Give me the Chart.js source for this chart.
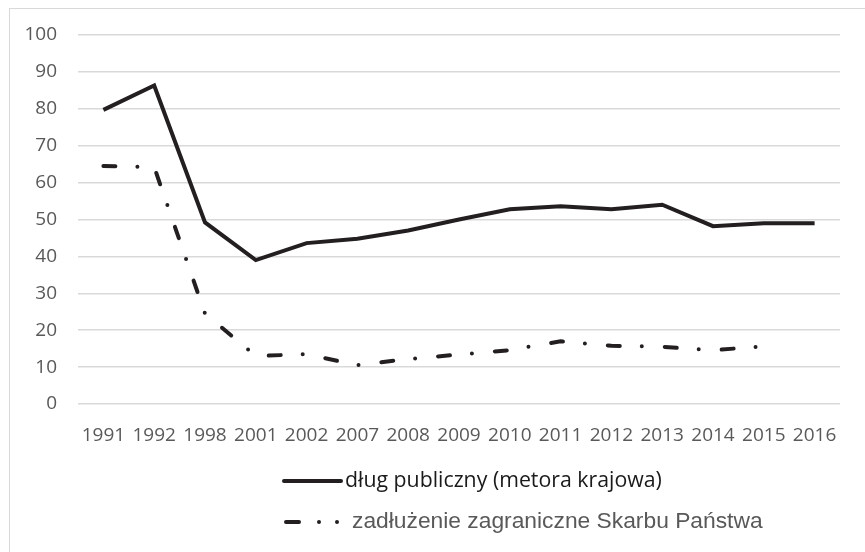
<!DOCTYPE html>
<html>
<head>
<meta charset="utf-8">
<script src="https://cdn.jsdelivr.net/npm/chart.js@4/dist/chart.umd.min.js"></script>
<style>
  html, body { margin: 0; padding: 0; background: #fff; }
  #wrap { position: relative; width: 865px; height: 552px; overflow: hidden; }
  #frame { position: absolute; left: 9px; top: 8px; width: 900px; height: 600px;
           border: 1.5px solid #d9d9d9; box-sizing: border-box; }
  canvas { position: absolute; left: 0; top: 0; }
</style>
</head>
<body>
<div id="wrap">
  <div id="frame"></div>
  <canvas id="c" width="865" height="552"></canvas>
</div>
<script>
// Years on the category axis
const years = ['1991','1992','1998','2001','2002','2007','2008','2009','2010','2011','2012','2013','2014','2015','2016'];
// Public debt, % of GDP (domestic methodology)
const publicDebt = [79.7, 86.3, 49.2, 39.0, 43.6, 44.8, 47.0, 50.0, 52.8, 53.6, 52.8, 54.0, 48.2, 49.0, 49.0];
// Foreign debt of the State Treasury, % of GDP
const foreignDebt = [64.5, 64.2, 24.5, 13.0, 13.5, 10.5, 12.2, 13.4, 14.6, 17.0, 15.8, 15.5, 14.6, 15.6, null];
// Value axis ticks
const yTicks = [0, 10, 20, 30, 40, 50, 60, 70, 80, 90, 100];
// Series names
const seriesNames = ['dług publiczny (metora krajowa)', 'zadłużenie zagraniczne Skarbu Państwa'];

const LINE = '#231f20';
const GRID = '#d9d9d9';
const TICK = '#595959';

// Legend drawn below the plot: one entry per row, samples aligned on the left
const legendRows = {
  id: 'legendRows',
  afterDraw(chart) {
    const ctx = chart.ctx;
    const x0 = 284;
    ctx.save();
    ctx.strokeStyle = LINE;
    ctx.lineWidth = 4;
    ctx.lineCap = 'round';
    ctx.textBaseline = 'middle';
    // first entry: solid line
    let y = 481;
    ctx.setLineDash([]);
    ctx.beginPath(); ctx.moveTo(x0, y); ctx.lineTo(x0 + 57, y); ctx.stroke();
    ctx.fillStyle = '#1a1a1a';
    ctx.font = '21.3px "Open Sans"';
    ctx.fillText(seriesNames[0], x0 + 61, y);
    // second entry: dash-dot line
    y = 522;
    ctx.setLineDash([13, 20, 0, 18, 0, 200]);
    ctx.beginPath(); ctx.moveTo(x0 + 2, y); ctx.lineTo(x0 + 56, y); ctx.stroke();
    ctx.setLineDash([]);
    ctx.fillStyle = '#595959';
    ctx.font = '22.8px "Liberation Sans"';
    ctx.fillText(seriesNames[1], x0 + 68, y);
    ctx.restore();
  }
};

new Chart(document.getElementById('c'), {
  type: 'line',
  data: {
    labels: years,
    datasets: [
      {
        label: seriesNames[0],
        data: publicDebt,
        borderColor: LINE,
        borderWidth: 4,
        borderJoinStyle: 'miter',
        pointRadius: 0,
        tension: 0,
        fill: false
      },
      {
        label: seriesNames[1],
        data: foreignDebt,
        borderColor: LINE,
        borderWidth: 4,
        borderDash: [12, 22, 0, 23],
        borderCapStyle: 'round',
        pointRadius: 0,
        tension: 0,
        fill: false,
        spanGaps: false
      }
    ]
  },
  options: {
    responsive: false,
    animation: false,
    devicePixelRatio: 1,
    layout: { padding: { left: 0, right: 25, top: 35, bottom: 100 } },
    plugins: {
      legend: { display: false },
      tooltip: { enabled: false }
    },
    scales: {
      x: {
        offset: true,
        grid: { display: false, drawTicks: false },
        border: { display: false },
        ticks: {
          color: TICK,
          font: { family: '"Open Sans"', size: 19 },
          padding: 20,
          maxRotation: 0,
          autoSkip: false
        },
        afterFit(scale) { scale.height = 48; }
      },
      y: {
        min: 0,
        max: 100,
        afterBuildTicks(scale) { scale.ticks = yTicks.map(v => ({ value: v })); },
        grid: { color: GRID, lineWidth: 1.5, drawTicks: false },
        border: { display: false },
        ticks: {
          color: TICK,
          font: { family: '"Open Sans"', size: 19 },
          padding: 21
        },
        afterFit(scale) { scale.width = 78; }
      }
    }
  },
  plugins: [legendRows]
});
</script>
</body>
</html>
